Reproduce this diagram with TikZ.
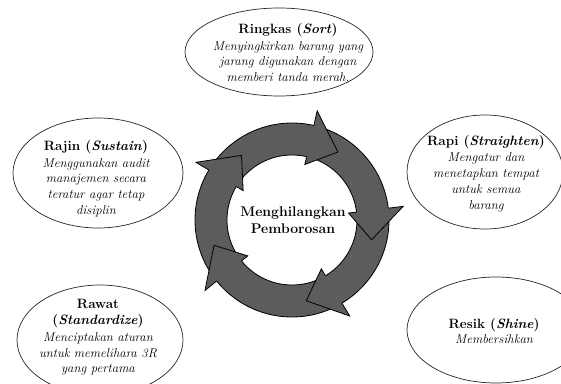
\documentclass[tikz,border=0pt]{standalone}
\usetikzlibrary{calc}
\begin{document}
\begin{tikzpicture}[x=1pt,y=1pt,
  bubble/.style={draw=black!85, line width=0.7pt},
  txt/.style={align=center, inner sep=0pt, font=\fontsize{12.8}{15.8}\selectfont\itshape},
  ringfill/.style={fill=black!64},
  ringline/.style={draw=black, line width=0.8pt, line join=miter}]
\useasboundingbox (0,0) rectangle (561,383);
\clip (0,0) rectangle (561,383);
\fill[white] (0,0) rectangle (561,383);

% bubbles
\draw[bubble] (279,331) ellipse [x radius=94, y radius=44];
\draw[bubble] (98,210) ellipse [x radius=85, y radius=55];
\draw[bubble] (485,211) ellipse [x radius=78, y radius=57];
\draw[bubble] (100,43) ellipse [x radius=83, y radius=55];
\draw[bubble] (496,53) ellipse [x radius=89, y radius=53];

\newcommand{\ttlfont}{\fontsize{13.5}{15.8}\selectfont\bfseries\upshape}
\node[txt] (ringkas) at (288,330.5) {{\ttlfont Ringkas (\textit{Sort})}\\[1pt]
  Menyingkirkan barang yang\\ jarang digunakan dengan\\ memberi tanda merah.};
\node[txt] (rajin) at (96,204.5) {{\ttlfont Rajin (\textit{Sustain})}\\[1pt]
  Menggunakan audit\\ manajemen secara\\ teratur agar tetap\\ disiplin};
\node[txt] (rapi) at (486,209.5) {{\ttlfont Rapi (\textit{Straighten})}\\[1pt]
  Mengatur dan\\ menetapkan tempat\\ untuk semua\\ barang};
\node[txt] (rawat) at (98,45.5) {{\ttlfont Rawat}\\
  {\ttlfont (\textit{Standardize})}\\[1pt]
  Menciptakan aturan\\ untuk memelihara 3R\\ yang pertama};
\node[txt] (resik) at (494,52) {{\ttlfont Resik (\textit{Shine})}\\
  Membersihkan};

% ring
\coordinate (C) at (292,163);
\fill[ringfill, even odd rule] (C) circle (97) (C) circle (65);
\draw[ringline] (C) circle (97);
\draw[ringline] (C) circle (65);
\foreach \b in {77,7,-59,-141,149}{
  \fill[ringfill] ($(C)+(\b:57)$) -- ($(C)+(\b-21:82)$) -- ($(C)+(\b:112)$) -- cycle;
  \draw[ringline] ($(C)+(\b:65)$) -- ($(C)+(\b:57)$) -- ($(C)+(\b-21:82)$) -- ($(C)+(\b:112)$) -- ($(C)+(\b:97)$);
}
\node[align=center, inner sep=0pt, font=\fontsize{14}{16.5}\selectfont\bfseries] (center) at (293,163) {Menghilangkan\\ Pemborosan};
\end{tikzpicture}
\end{document}
